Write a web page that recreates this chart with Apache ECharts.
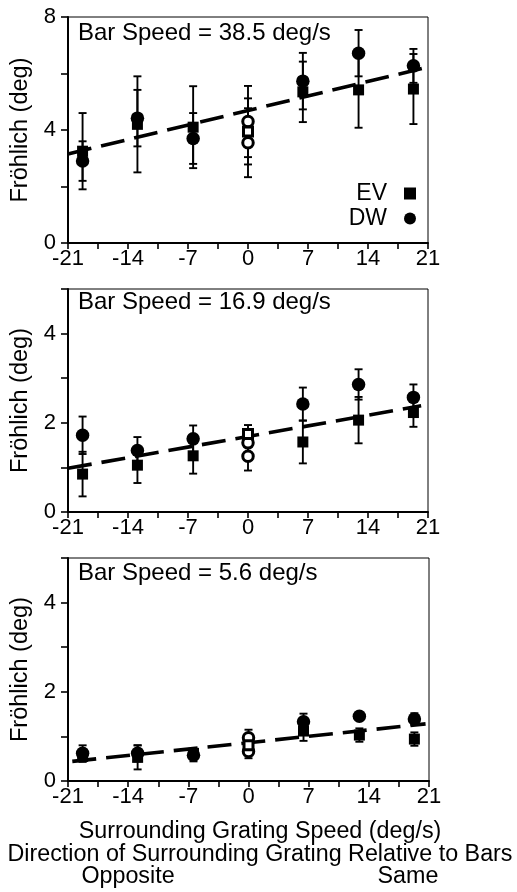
<!DOCTYPE html>
<html>
<head>
<meta charset="utf-8">
<script src="https://cdn.jsdelivr.net/npm/echarts@6/dist/echarts.min.js"></script>
<style>
html,body{margin:0;padding:0;background:#fff;}
#chart{width:517px;height:892px;}
</style>
</head>
<body>
<div id="chart"></div>
<script>
// ---- data ----
var xSpeeds = [-19.3, -12.9, -6.4, 6.4, 12.9, 19.3];
var xTicks = [-21, -14, -7, 0, 7, 14, 21];
var panelTitles = ['Bar Speed = 38.5 deg/s', 'Bar Speed = 16.9 deg/s', 'Bar Speed = 5.6 deg/s'];

// Bar speed 38.5
var evTop = [3.25, 4.2, 4.1, 5.35, 5.42, 5.45];
var evTopErr = [1.35, 1.7, 1.45, 1.07, 1.34, 1.24];
var dwTop = [2.9, 4.42, 3.7, 5.73, 6.72, 6.27];
var dwTopErr = [0.7, 1.0, 0.9, 1.0, 0.82, 0.6];
var evZeroTop = [3.95];
var evZeroTopErr = [1.17];
var dwZeroTop = [4.3, 3.55];
var dwZeroTopErr = [1.26, 1.22];
var fitTop = [[-21, 3.15], [21, 6.23]];

// Bar speed 16.9
var evMid = [0.85, 1.05, 1.26, 1.57, 2.06, 2.23];
var evMidErr = [0.5, 0.4, 0.4, 0.48, 0.52, 0.32];
var dwMid = [1.72, 1.38, 1.64, 2.42, 2.86, 2.57];
var dwMidErr = [0.42, 0.3, 0.3, 0.37, 0.34, 0.29];
var evZeroMid = [1.75];
var evZeroMidErr = [0.2];
var dwZeroMid = [1.55, 1.25];
var dwZeroMidErr = [0.3, 0.32];
var fitMid = [[-21, 0.98], [20.2, 2.38]];

// Bar speed 5.6
var evBot = [0.55, 0.53, 0.62, 1.12, 1.03, 0.94];
var evBotErr = [0.12, 0.27, 0.1, 0.22, 0.15, 0.15];
var dwBot = [0.62, 0.62, 0.58, 1.33, 1.45, 1.39];
var dwBotErr = [0.18, 0.18, 0.14, 0.18, 0.08, 0.13];
var evZeroBot = [0.8];
var evZeroBotErr = [0.15];
var dwZeroBot = [0.97, 0.66];
var dwZeroBotErr = [0.18, 0.15];
var fitBot = [[-20.5, 0.44], [20.6, 1.28]];

// ---- chart ----
var FONT = '"Liberation Sans", Arial, Helvetica, sans-serif';
var chart = echarts.init(document.getElementById('chart'), null, {renderer: 'canvas'});

var grids = [
  {left: 68, top: 17, width: 360, height: 226},
  {left: 68, top: 289, width: 360, height: 223},
  {left: 68, top: 558, width: 361, height: 223}
];
grids.forEach(function (g) { g.show = true; g.borderColor = '#000'; g.borderWidth = 1; g.containLabel = false; });

function xAxisFor(i) {
  return {
    gridIndex: i, type: 'value', min: -21, max: 21, interval: 3.5,
    axisLine: {show: true, onZero: false, lineStyle: {color: '#000', width: 2}},
    axisTick: {show: true, inside: false, length: 6, lineStyle: {color: '#000', width: 1.6}},
    axisLabel: {
      color: '#000', fontSize: 22, fontFamily: FONT, margin: 5,
      formatter: function (v) { return xTicks.indexOf(v) >= 0 ? String(v) : ''; }
    },
    splitLine: {show: false}
  };
}
function yAxisFor(i, max, interval, labelEvery) {
  return {
    gridIndex: i, type: 'value', min: 0, max: max, interval: interval,
    name: 'Fröhlich (deg)', nameLocation: 'middle', nameGap: 35, nameRotate: 90,
    nameTextStyle: {color: '#000', fontSize: 23.5, fontFamily: FONT},
    axisLine: {show: true, onZero: false, lineStyle: {color: '#000', width: 2}},
    axisTick: {show: true, inside: false, length: 7, lineStyle: {color: '#000', width: 1.6}},
    axisLabel: {
      color: '#000', fontSize: 22, fontFamily: FONT, margin: 12,
      formatter: function (v) { return (v % labelEvery === 0 && v < 5 || (max === 8 && v === 8)) ? String(v) : ''; }
    },
    splitLine: {show: false}
  };
}

function errData(xs, m, e) {
  return xs.map(function (x, k) { return [x, m[k] - e[k], m[k] + e[k]]; });
}
function ptData(xs, m) {
  return xs.map(function (x, k) { return [x, m[k]]; });
}
function zeros(arr) { return arr.map(function () { return 0; }); }

function errSeries(i, data) {
  return {
    type: 'custom', xAxisIndex: i, yAxisIndex: i, z: 2, silent: true,
    data: data,
    renderItem: function (params, api) {
      var x = api.value(0), lo = api.value(1), hi = api.value(2);
      var pHi = api.coord([x, hi]), pLo = api.coord([x, lo]);
      var w = 4;
      var st = {stroke: '#000', lineWidth: 1.9};
      return {
        type: 'group',
        children: [
          {type: 'line', shape: {x1: pHi[0], y1: pHi[1], x2: pLo[0], y2: pLo[1]}, style: st},
          {type: 'line', shape: {x1: pHi[0] - w, y1: pHi[1], x2: pHi[0] + w, y2: pHi[1]}, style: st},
          {type: 'line', shape: {x1: pLo[0] - w, y1: pLo[1], x2: pLo[0] + w, y2: pLo[1]}, style: st}
        ]
      };
    }
  };
}

var panels = [
  {ev: evTop, evE: evTopErr, dw: dwTop, dwE: dwTopErr, ev0: evZeroTop, ev0E: evZeroTopErr, dw0: dwZeroTop, dw0E: dwZeroTopErr, fit: fitTop},
  {ev: evMid, evE: evMidErr, dw: dwMid, dwE: dwMidErr, ev0: evZeroMid, ev0E: evZeroMidErr, dw0: dwZeroMid, dw0E: dwZeroMidErr, fit: fitMid},
  {ev: evBot, evE: evBotErr, dw: dwBot, dwE: dwBotErr, ev0: evZeroBot, ev0E: evZeroBotErr, dw0: dwZeroBot, dw0E: dwZeroBotErr, fit: fitBot}
];

var series = [];
panels.forEach(function (p, i) {
  series.push(errSeries(i, errData(xSpeeds, p.ev, p.evE)));
  series.push(errSeries(i, errData(xSpeeds, p.dw, p.dwE)));
  series.push(errSeries(i, errData(zeros(p.ev0), p.ev0, p.ev0E)));
  series.push(errSeries(i, errData(zeros(p.dw0), p.dw0, p.dw0E)));
  series.push({
    type: 'line', xAxisIndex: i, yAxisIndex: i, z: 3, silent: true,
    data: p.fit, showSymbol: false, symbol: 'none',
    lineStyle: {color: '#000', width: 3.6, type: [24, 10], opacity: 1}
  });
  series.push({
    name: 'EV', type: 'scatter', xAxisIndex: i, yAxisIndex: i, z: 4,
    symbol: 'rect', symbolSize: 11, itemStyle: {color: '#000', opacity: 1},
    data: ptData(xSpeeds, p.ev)
  });
  series.push({
    name: 'DW', type: 'scatter', xAxisIndex: i, yAxisIndex: i, z: 4,
    symbol: 'circle', symbolSize: 13.5, itemStyle: {color: '#000', opacity: 1},
    data: ptData(xSpeeds, p.dw)
  });
  series.push({
    type: 'scatter', xAxisIndex: i, yAxisIndex: i, z: 5,
    symbol: 'circle', symbolSize: 10.5, itemStyle: {color: '#fff', borderColor: '#000', borderWidth: 3, opacity: 1},
    data: ptData(zeros(p.dw0), p.dw0)
  });
  series.push({
    type: 'scatter', xAxisIndex: i, yAxisIndex: i, z: 6,
    symbol: 'rect', symbolSize: 9, itemStyle: {color: '#fff', borderColor: '#000', borderWidth: 3, opacity: 1},
    data: ptData(zeros(p.ev0), p.ev0)
  });
});

var titleTops = [33, 302, 573];
var textStyleBase = {fill: '#000', fontSize: 24, fontFamily: FONT};
var bottomStyle = {fill: '#000', fontSize: 23.3, fontFamily: FONT};
var graphics = [];
panelTitles.forEach(function (t, i) {
  graphics.push({type: 'text', x: 78, y: titleTops[i], style: Object.assign({text: t, textVerticalAlign: 'middle'}, textStyleBase)});
});
graphics.push({type: 'text', x: 260, y: 832, style: Object.assign({text: 'Surrounding Grating Speed (deg/s)', textAlign: 'center', textVerticalAlign: 'middle'}, bottomStyle)});
graphics.push({type: 'text', x: 260, y: 855, style: Object.assign({text: 'Direction of Surrounding Grating Relative to Bars', textAlign: 'center', textVerticalAlign: 'middle'}, bottomStyle)});
graphics.push({type: 'text', x: 128, y: 877, style: Object.assign({text: 'Opposite', textAlign: 'center', textVerticalAlign: 'middle'}, bottomStyle)});
graphics.push({type: 'text', x: 408, y: 877, style: Object.assign({text: 'Same', textAlign: 'center', textVerticalAlign: 'middle'}, bottomStyle)});

chart.setOption({
  backgroundColor: '#fff',
  animation: false,
  grid: grids,
  xAxis: [xAxisFor(0), xAxisFor(1), xAxisFor(2)],
  yAxis: [yAxisFor(0, 8, 2, 4), yAxisFor(1, 5, 1, 2), yAxisFor(2, 5, 1, 2)],
  legend: {
    orient: 'vertical', right: 96, top: 177, align: 'right',
    itemWidth: 12, itemHeight: 12, itemGap: 2, selectedMode: false,
    itemStyle: {color: '#000', opacity: 1},
    textStyle: {color: '#000', fontSize: 23, fontFamily: FONT, padding: [0, 12, 0, 0]},
    data: [{name: 'EV', icon: 'rect'}, {name: 'DW', icon: 'circle'}]
  },
  graphic: graphics,
  series: series
});
</script>
</body>
</html>
